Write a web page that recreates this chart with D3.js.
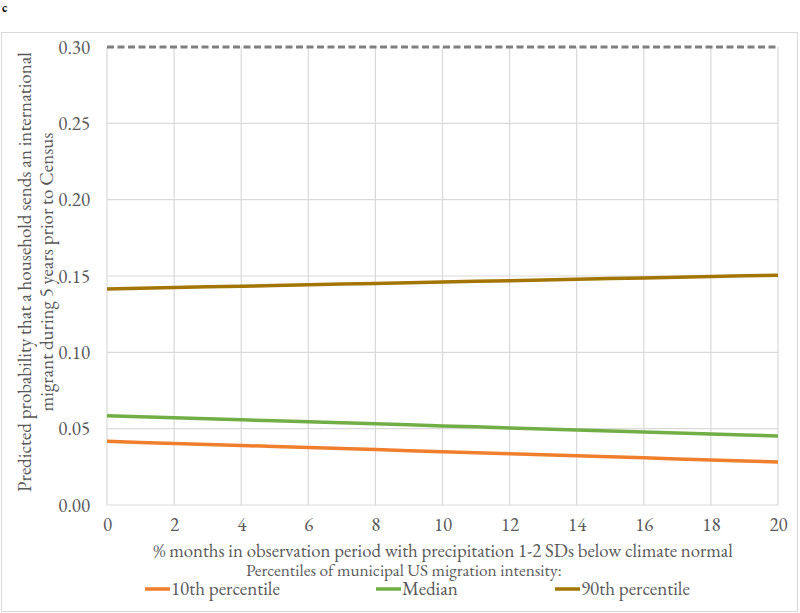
<!DOCTYPE html>
<html lang="en">
<head>
    <meta charset="UTF-8">
    <title>Predicted migration probability</title>
    <script src="https://d3js.org/d3.v7.min.js"></script>
    <style>
        body { margin: 0; background: #fff; }
    </style>
</head>
<body>
    <svg width="800" height="613" id="chart"></svg>

    <script>
        // Data (x = % months with precipitation 1-2 SDs below normal)
        const months = [0, 1, 2, 3, 4, 5, 6, 7, 8, 9, 10, 11, 12, 13, 14, 15, 16, 17, 18, 19, 20];
        const p10 = [0.0417, 0.0410, 0.0403, 0.0397, 0.0390, 0.0383, 0.0376, 0.0370, 0.0363, 0.0356, 0.0349,
                     0.0343, 0.0336, 0.0329, 0.0322, 0.0316, 0.0309, 0.0302, 0.0295, 0.0289, 0.0282];
        const median = [0.0585, 0.0578, 0.0572, 0.0565, 0.0558, 0.0552, 0.0545, 0.0538, 0.0532, 0.0525, 0.0518,
                        0.0512, 0.0505, 0.0498, 0.0492, 0.0485, 0.0478, 0.0472, 0.0465, 0.0459, 0.0452];
        const p90 = [0.1415, 0.1420, 0.1424, 0.1429, 0.1433, 0.1438, 0.1442, 0.1447, 0.1451, 0.1456, 0.1460,
                     0.1465, 0.1469, 0.1474, 0.1478, 0.1483, 0.1487, 0.1492, 0.1496, 0.1501, 0.1505];
        const refLine = 0.30;
        const xTicks = [0, 2, 4, 6, 8, 10, 12, 14, 16, 18, 20];
        const yTicks = [0, 0.05, 0.10, 0.15, 0.20, 0.25, 0.30];
        const seriesNames = ["10th percentile", "Median", "90th percentile"];

        const colors = ["#F07F2D", "#72AE46", "#A37504"];
        const gridColor = "#d9d9d9";
        const textColor = "#595959";
        const font = "'EB Garamond', Garamond, 'Liberation Serif', serif";

        const svg = d3.select("#chart");

        // small helper so every label gets the same font
        function label(sel, size) {
            return sel.style("font-family", font)
                .style("font-size", size + "px")
                .style("fill", textColor);
        }

        // panel letter
        svg.append("text")
            .attr("x", 2).attr("y", 12)
            .text("c")
            .style("font-family", font)
            .style("font-size", "13px")
            .style("font-weight", "bold")
            .style("fill", "#000");

        // outer chart border
        svg.append("rect")
            .attr("x", 1.5).attr("y", 32.5)
            .attr("width", 796).attr("height", 579)
            .attr("fill", "none")
            .attr("stroke", gridColor);

        // scales
        const x = d3.scaleLinear().domain([0, 20]).range([107, 778]);
        const y = d3.scaleLinear().domain([0, 0.30]).range([505, 47]);

        // gridlines
        svg.append("g")
            .selectAll("line")
            .data(yTicks.slice(0, -1))
            .join("line")
            .attr("x1", x(0)).attr("x2", x(20))
            .attr("y1", d => y(d)).attr("y2", d => y(d))
            .attr("stroke", gridColor).attr("stroke-width", 1.2);

        svg.append("g")
            .selectAll("line")
            .data(xTicks)
            .join("line")
            .attr("x1", d => x(d)).attr("x2", d => x(d))
            .attr("y1", y(0.30)).attr("y2", y(0))
            .attr("stroke", gridColor).attr("stroke-width", 1.2);

        // axes (labels only)
        const yAxis = svg.append("g")
            .attr("transform", `translate(${x(0)},0)`)
            .call(d3.axisLeft(y).tickValues(yTicks).tickFormat(d3.format(".2f")).tickSize(0).tickPadding(17));
        yAxis.select(".domain").remove();
        label(yAxis.selectAll("text"), 19);

        const xAxis = svg.append("g")
            .attr("transform", `translate(0,${y(0)})`)
            .call(d3.axisBottom(x).tickValues(xTicks).tickFormat(d3.format("d")).tickSize(0).tickPadding(13));
        xAxis.select(".domain").remove();
        label(xAxis.selectAll("text"), 19);

        // dashed reference line at 0.30
        svg.append("line")
            .attr("x1", x(0)).attr("x2", x(20))
            .attr("y1", y(refLine)).attr("y2", y(refLine))
            .attr("stroke", "#7f7f7f")
            .attr("stroke-width", 3)
            .attr("stroke-dasharray", "7,3.5");

        // series lines
        const line = d3.line()
            .x((d, i) => x(months[i]))
            .y(d => y(d));

        [p10, median, p90].forEach((vals, i) => {
            svg.append("path")
                .attr("d", line(vals))
                .attr("fill", "none")
                .attr("stroke", colors[i])
                .attr("stroke-width", 3.5);
        });

        // y axis title
        const yTitle = label(svg.append("text"), 19)
            .attr("transform", "translate(31,272) rotate(-90)")
            .attr("text-anchor", "middle");
        yTitle.append("tspan").attr("x", 0).attr("dy", 0)
            .text("Predicted probability that a household sends an international");
        yTitle.append("tspan").attr("x", 0).attr("dy", 22)
            .text("migrant during 5 years prior to Census");

        // x axis title
        label(svg.append("text"), 18.8)
            .attr("x", 443).attr("y", 557)
            .attr("text-anchor", "middle")
            .text("% months in observation period with precipitation 1-2 SDs below climate normal");

        // legend
        label(svg.append("text"), 17.3)
            .attr("x", 404).attr("y", 576)
            .attr("text-anchor", "middle")
            .text("Percentiles of municipal US migration intensity:");

        const legendX = [145, 376, 555];
        seriesNames.forEach((name, i) => {
            const g = svg.append("g").attr("transform", `translate(${legendX[i]},589)`);
            g.append("line")
                .attr("x1", 0).attr("x2", 25)
                .attr("stroke", colors[i])
                .attr("stroke-width", 3.5);
            label(g.append("text"), 19)
                .attr("x", 26).attr("y", 6)
                .text(name);
        });
    </script>
</body>
</html>
